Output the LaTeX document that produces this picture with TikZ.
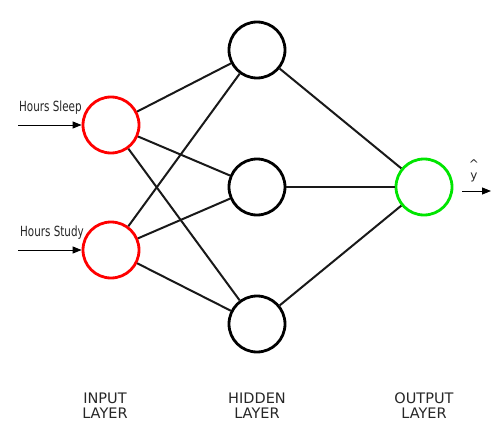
\documentclass[tikz,border=0pt]{standalone}
\usepackage{fontspec}
\setmainfont{DejaVu Sans}
\newfontfamily\condfont[FakeStretch=0.74]{DejaVu Sans}
\usetikzlibrary{arrows.meta}
\begin{document}
\begin{tikzpicture}[x=1pt,y=-1pt,
  neuron/.style={circle,draw=black,line width=2.8pt,minimum size=56pt,inner sep=0pt,fill=white},
  inneuron/.style={neuron,draw=red},
  outneuron/.style={neuron,draw=green!90!black},
  edge/.style={line width=2pt,black!90},
  inarrow/.style={line width=0.9pt,-{Triangle[length=9pt,width=7pt]}},
  lbl/.style={font=\fontsize{14.5}{15}\selectfont,align=center,text=black!85,inner sep=0pt},
  txt/.style={font=\condfont\fontsize{14}{15}\selectfont,text=black!85,inner sep=0pt}]
\useasboundingbox (0,0) rectangle (501,444);
\node[inneuron] (i1) at (111,125) {};
\node[inneuron] (i2) at (111,250) {};
\node[neuron] (h1) at (257,50) {};
\node[neuron] (h2) at (257,187) {};
\node[neuron] (h3) at (257,324) {};
\node[outneuron] (o) at (424,187) {};
\foreach \i in {i1,i2}{\foreach \h in {h1,h2,h3}{\draw[edge] (\i) -- (\h);}}
\foreach \h in {h1,h2,h3}{\draw[edge] (\h) -- (o);}
\coordinate (s1) at (18,125);
\coordinate (s2) at (18,250);
\coordinate (e0) at (462,191);
\coordinate (e3) at (491,191);
\draw[inarrow] (s1) -- (i1.west);
\draw[inarrow] (s2) -- (i2.west);
\draw[inarrow] (e0) -- (e3);
\node[txt,anchor=base west] (t1) at (19,111) {Hours Sleep};
\node[txt,anchor=base west] (t2) at (20,236) {Hours Study};
\node[font=\fontsize{12}{11}\selectfont,inner sep=0pt,align=center,text=black!85] (yh) at (474,171) {\textasciicircum\\y};
\node[lbl,anchor=base] (L1) at (105,418) {INPUT\\LAYER};
\node[lbl,anchor=base] (L2) at (257,418) {HIDDEN\\LAYER};
\node[lbl,anchor=base] (L3) at (424,418) {OUTPUT\\LAYER};
\end{tikzpicture}
\end{document}
